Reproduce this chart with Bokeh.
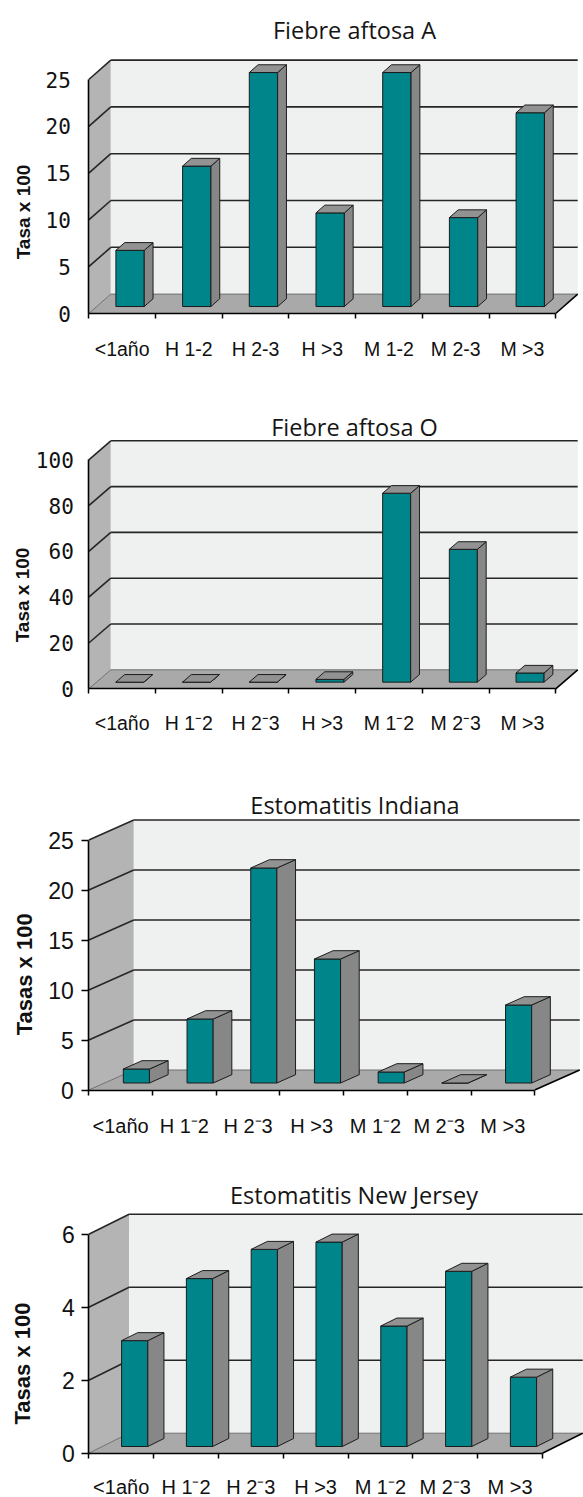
import math
from bokeh.plotting import figure
from bokeh.models import Range1d, FixedTicker, Label
from bokeh.layouts import column
from bokeh.embed import file_html
from bokeh.resources import INLINE

# ---------------- data ----------------
categories_a = ["<1año", "H 1-2", "H 2-3", "H >3", "M 1-2", "M 2-3", "M >3"]
categories_b = ["<1año", "H 1⁻2", "H 2⁻3", "H >3", "M 1⁻2", "M 2⁻3", "M >3"]

titles = ["Fiebre aftosa A", "Fiebre aftosa O", "Estomatitis Indiana", "Estomatitis New Jersey"]
ylabels = ["Tasa x 100", "Tasa x 100", "Tasas x 100", "Tasas x 100"]

values_fa_a = [6, 15, 25, 10, 25, 9.5, 20.7]
values_fa_o = [0, 0, 0, 1.2, 82.5, 58, 4]
values_ei = [1.4, 6.4, 21.5, 12.4, 1.1, 0, 7.8]
values_enj = [2.9, 4.6, 5.4, 5.6, 3.3, 4.8, 1.9]

yticks_fa_a = [0, 5, 10, 15, 20, 25]
yticks_fa_o = [0, 20, 40, 60, 80, 100]
yticks_ei = [0, 5, 10, 15, 20, 25]
yticks_enj = [0, 2, 4, 6]

# ---------------- styles ----------------
TEAL = "#00868a"
SIDE = "#878787"
TOP = "#929292"
FLOOR = "#a9a9a9"
LEFT_WALL = "#b4b4b4"
BACK_WALL = "#eff0f0"
GRID = "#262626"
EDGE = "#1c1c1c"

FIG_W = 583
AXIS_X = 88.3        # px from figure left to the front y axis

layouts = [
    dict(height=380, mbb=67, cat_px=66.7, ppu=9.36, ddx=22, ddy=19.4, z0=0.36, zb=0.40, bar_w=0.425,
         yfont="DejaVu Sans Mono", yfs="21px", ytick_out=0, ystand=18,
         xfs="19.5px", xstand=19, title_x=265.7, title_y=283.7, tfs="23.5px",
         ylab_x=-65.3, ylab_y=101.5, ylfs="19px"),
    dict(height=375, mbb=66.7, cat_px=66.7, ppu=2.29, ddx=22, ddy=19.0, z0=0.35, zb=0.40, bar_w=0.42,
         yfont="DejaVu Sans Mono", yfs="21px", ytick_out=0, ystand=15,
         xfs="19.5px", xstand=18, title_x=265.7, title_y=262.3, tfs="23.5px",
         ylab_x=-66.8, ylab_y=93.8, ylfs="19px"),
    dict(height=393, mbb=58.5, cat_px=63.7, ppu=10.0, ddx=45, ddy=20.0, z0=0.35, zb=0.415, bar_w=0.41,
         yfont="Liberation Sans", yfs="23px", ytick_out=7, ystand=8,
         xfs="20px", xstand=20, title_x=266.2, title_y=285.5, tfs="23.5px",
         ylab_x=-64.3, ylab_y=115.7, ylfs="22px"),
    dict(height=349, mbb=44.3, cat_px=64.8, ppu=36.5, ddx=40.3, ddy=20.0, z0=0.335, zb=0.40, bar_w=0.405,
         yfont="Liberation Sans", yfs="23px", ytick_out=7, ystand=7,
         xfs="20px", xstand=18, title_x=265.2, title_y=258.7, tfs="23.5px",
         ylab_x=-66.3, ylab_y=89.7, ylfs="22px"),
]


def make_panel(title, cats, vals, yticks, ylabel, g):
    n = len(cats)
    cw, ppu = g["cat_px"], g["ppu"]
    ddx = g["ddx"] / cw
    ddy = g["ddy"] / ppu
    ymax = max(yticks)
    h = g["height"]

    p = figure(width=FIG_W, height=h,
               x_range=Range1d(-AXIS_X / cw, (FIG_W - AXIS_X) / cw),
               y_range=Range1d(-g["mbb"] / ppu, (h - g["mbb"]) / ppu),
               output_backend="svg", toolbar_location=None,
               min_border_left=0, min_border_right=0,
               min_border_top=0, min_border_bottom=0)
    p.xgrid.visible = False
    p.ygrid.visible = False
    p.outline_line_color = None
    p.background_fill_color = "white"
    p.border_fill_color = "white"

    # walls
    p.patch([0, 0, ddx, ddx], [0, ymax, ymax + ddy, ddy],
            fill_color=LEFT_WALL, line_color=None)
    p.patch([ddx, n + ddx, n + ddx, ddx], [ddy, ddy, ymax + ddy, ymax + ddy],
            fill_color=BACK_WALL, line_color=None)

    # gridlines on back wall and left wall
    gl = [v for v in yticks if v > 0]
    p.multi_line(xs=[[ddx, n + ddx] for _ in gl], ys=[[v + ddy, v + ddy] for v in gl],
                 line_color=GRID, line_width=1.6)
    p.multi_line(xs=[[0, ddx] for _ in gl], ys=[[v, v + ddy] for v in gl],
                 line_color=GRID, line_width=1.6)

    # floor
    p.patch([0, n, n + ddx, ddx], [0, 0, ddy, ddy], fill_color=FLOOR, line_color=None)
    p.multi_line(xs=[[0, ddx], [ddx, n + ddx]], ys=[[0, ddy], [ddy, ddy]],
                 line_color="#707070", line_width=1)
    p.line([n, n + ddx], [0, ddy], line_color="black", line_width=1.6)

    # bars
    z0, zb, w = g["z0"], g["zb"], g["bar_w"]
    xl = [i + 0.5 - w / 2 + z0 * ddx for i in range(n)]
    xr = [x + w for x in xl]
    yb = z0 * ddy
    yt = [yb + v for v in vals]
    bx, by = zb * ddx, zb * ddy
    p.patches(xs=[[l, r, r, l] for l, r in zip(xl, xr)],
              ys=[[yb, yb, t, t] for t in yt],
              fill_color=TEAL, line_color=EDGE, line_width=1)
    p.patches(xs=[[r, r + bx, r + bx, r] for r in xr],
              ys=[[yb, yb + by, t + by, t] for t in yt],
              fill_color=SIDE, line_color=EDGE, line_width=1)
    p.patches(xs=[[l, r, r + bx, l + bx] for l, r in zip(xl, xr)],
              ys=[[t, t, t + by, t + by] for t in yt],
              fill_color=TOP, line_color=EDGE, line_width=1)

    # x axis (front edge of the floor)
    centers = [i + 0.5 for i in range(n)]
    xa = p.xaxis[0]
    xa.fixed_location = 0
    xa.ticker = FixedTicker(ticks=centers, minor_ticks=list(range(n + 1)))
    xa.major_label_overrides = {c: lab for c, lab in zip(centers, cats)}
    xa.bounds = (0, n)
    xa.major_tick_out = 0
    xa.major_tick_in = 0
    xa.minor_tick_out = 5
    xa.minor_tick_in = 0
    xa.minor_tick_line_color = "black"
    xa.minor_tick_line_width = 1.5
    xa.axis_line_color = "black"
    xa.axis_line_width = 1.6
    xa.major_label_text_font = "Liberation Sans"
    xa.major_label_text_font_size = g["xfs"]
    xa.major_label_text_color = "#111111"
    xa.major_label_standoff = g["xstand"]

    # y axis (front edge of the left wall)
    ya = p.yaxis[0]
    ya.fixed_location = 0
    ya.ticker = FixedTicker(ticks=yticks, minor_ticks=[])
    ya.bounds = (0, ymax)
    ya.major_tick_out = g["ytick_out"]
    ya.major_tick_in = 0
    ya.major_tick_line_color = "black"
    ya.major_tick_line_width = 1.5
    ya.axis_line_color = "black"
    ya.axis_line_width = 1.6
    ya.major_label_text_font = g["yfont"]
    ya.major_label_text_font_size = g["yfs"]
    ya.major_label_text_color = "#111111"
    ya.major_label_standoff = g["ystand"]

    # title
    p.add_layout(Label(x=g["title_x"] / cw, y=g["title_y"] / ppu, text=title,
                       text_align="center", text_baseline="alphabetic",
                       text_font="Open Sans", text_font_size=g["tfs"],
                       text_color="#151515"))
    # y axis title
    p.add_layout(Label(x=g["ylab_x"] / cw, y=g["ylab_y"] / ppu, text=ylabel,
                       angle=math.pi / 2, text_align="center", text_baseline="middle",
                       text_font="Liberation Sans", text_font_style="bold",
                       text_font_size=g["ylfs"], text_color="#111111"))
    return p


panels = [
    make_panel(titles[0], categories_a, values_fa_a, yticks_fa_a, ylabels[0], layouts[0]),
    make_panel(titles[1], categories_b, values_fa_o, yticks_fa_o, ylabels[1], layouts[1]),
    make_panel(titles[2], categories_b, values_ei, yticks_ei, ylabels[2], layouts[2]),
    make_panel(titles[3], categories_b, values_enj, yticks_enj, ylabels[3], layouts[3]),
]

layout = column(*panels, spacing=0)
open("out.html", "w").write(file_html(layout, INLINE))
